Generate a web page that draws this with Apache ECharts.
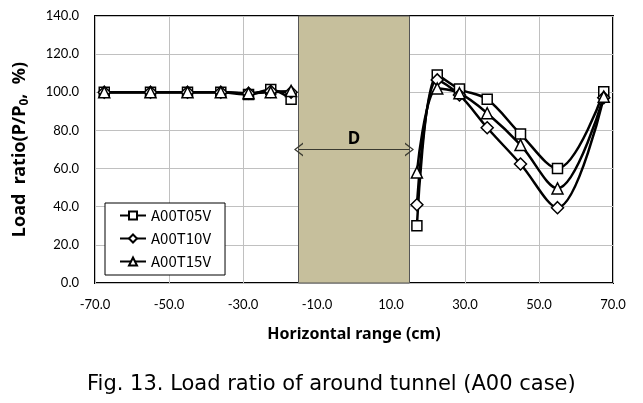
<!DOCTYPE html>
<html>
<head>
<meta charset="utf-8">
<script src="https://cdn.jsdelivr.net/npm/echarts@6/dist/echarts.min.js"></script>
<style>
html,body{margin:0;padding:0;background:#fff;}
#c{width:643px;height:403px;}
</style>
</head>
<body>
<div id="c"></div>
<script>
// ---- data ----
const xLeft = [-67.5, -55, -45, -36, -28.5, -22.5, -17];
const xRight = [17, 22.5, 28.5, 36, 45, 55, 67.5];
const seriesNames = ['A00T05V', 'A00T10V', 'A00T15V'];
const t05Left = [100, 100, 100, 100, 98.8, 101.5, 96.3];
const t05Right = [30, 109, 101.7, 96.3, 78.1, 60.1, 100.3];
const t10Left = [100, 100, 100, 100, 99.5, 100.5, 100];
const t10Right = [41, 106.5, 98.6, 81.4, 62.4, 39.5, 97.2];
const t15Left = [100, 100, 100, 100, 99.5, 100, 100.7];
const t15Right = [58, 102, 99.5, 89, 72.4, 49.6, 97.7];
const tunnelRange = [-15, 15];
const arrowLevel = 70;
const xTickMin = -70, xTickMax = 70, xTickStep = 20;
const yTickMin = 0, yTickMax = 140, yTickStep = 20;

// axis shifted so ticks start at a multiple of the interval
const X_OFFSET = -xTickMin;
function pts(xs, ys) { return xs.map((x, i) => [x + X_OFFSET, ys[i]]); }
function build(l, r) { return pts(xLeft, l).concat([[null, null]], pts(xRight, r)); }

const symbols = ['rect', 'diamond', 'triangle'];
const symSizes = [10, 12, 11];
const leftData = [t05Left, t10Left, t15Left];
const rightData = [t05Right, t10Right, t15Right];

const chevron = 'path://M5,0 L10,10 L8.8,10 L5,2.2 L1.2,10 L0,10 Z';

const series = [{
  type: 'line', name: '_tunnel', data: [], z: 1, silent: true,
  markArea: {
    silent: true,
    itemStyle: { color: '#c6bf9c', borderColor: '#555', borderWidth: 1 },
    data: [[{ xAxis: tunnelRange[0] + X_OFFSET }, { xAxis: tunnelRange[1] + X_OFFSET }]]
  },
  markLine: {
    silent: true,
    symbol: [chevron, chevron],
    symbolSize: [14, 9],
    lineStyle: { color: '#3a3a30', width: 1.2, type: 'solid' },
    label: { show: true, position: 'insideMiddleTop', formatter: 'D', color: '#000',
      fontFamily: 'Noto Sans', fontWeight: 'bold', fontSize: 17, distance: 2 },
    data: [[{ coord: [tunnelRange[0] + X_OFFSET, arrowLevel] }, { coord: [tunnelRange[1] + X_OFFSET, arrowLevel] }]]
  }
}];
seriesNames.forEach((n, i) => {
  series.push({
    type: 'line', name: n, z: 3,
    data: build(leftData[i], rightData[i]),
    connectNulls: false,
    smooth: 0.35,
    symbol: symbols[i], symbolSize: symSizes[i],
    showAllSymbol: true,
    lineStyle: { color: '#000', width: 2.5 },
    itemStyle: { color: '#fff', borderColor: '#000', borderWidth: 1.5 }
  });
});

const chart = echarts.init(document.getElementById('c'));
chart.setOption({
  animation: false,
  backgroundColor: '#fff',
  title: {
    text: 'Fig. 13. Load ratio of around tunnel (A00 case)',
    left: 82, top: 369,
    textStyle: { fontFamily: 'DejaVu Sans', fontWeight: 'normal', fontSize: 21, color: '#000' }
  },
  grid: { left: 95, right: 30, top: 16, bottom: 120, show: true, borderColor: '#000', borderWidth: 2, backgroundColor: '#fff' },
  legend: {
    data: seriesNames,
    orient: 'vertical', left: 105, top: 203,
    padding: [5, 14, 6, 14],
    itemGap: 8, itemWidth: 26, itemHeight: 10,
    backgroundColor: '#fff', borderColor: '#000', borderWidth: 1,
    textStyle: { fontFamily: 'Noto Sans CJK KR', fontSize: 15, color: '#000' }
  },
  xAxis: {
    type: 'value', min: xTickMin + X_OFFSET, max: xTickMax + X_OFFSET, interval: xTickStep,
    name: 'Horizontal range (cm)', nameLocation: 'middle', nameGap: 43,
    nameTextStyle: { fontFamily: 'Noto Sans', fontWeight: 'bold', fontSize: 16, color: '#000' },
    axisLine: { show: false }, axisTick: { show: false },
    splitLine: { show: true, lineStyle: { color: '#c0c0c0', width: 1 } },
    axisLabel: { color: '#000', fontFamily: 'Lato', fontSize: 13, margin: 15,
      formatter: v => (v - X_OFFSET).toFixed(1) }
  },
  yAxis: {
    type: 'value', min: yTickMin, max: yTickMax, interval: yTickStep,
    name: '{a|Load  ratio(P/P}{s|0}{a|,  %)}', nameLocation: 'middle', nameGap: 64, nameRotate: 90,
    nameTextStyle: { rich: {
      a: { fontFamily: 'Noto Sans', fontWeight: 'bold', fontSize: 18, color: '#000' },
      s: { fontFamily: 'Noto Sans', fontWeight: 'bold', fontSize: 12, color: '#000', verticalAlign: 'bottom', padding: [10, 0, 0, 0] }
    } },
    axisLine: { show: false }, axisTick: { show: false },
    splitLine: { show: true, lineStyle: { color: '#c0c0c0', width: 1 } },
    axisLabel: { color: '#000', fontFamily: 'Lato', fontSize: 13, margin: 16,
      formatter: v => v.toFixed(1) }
  },
  series: series
});
</script>
</body>
</html>
